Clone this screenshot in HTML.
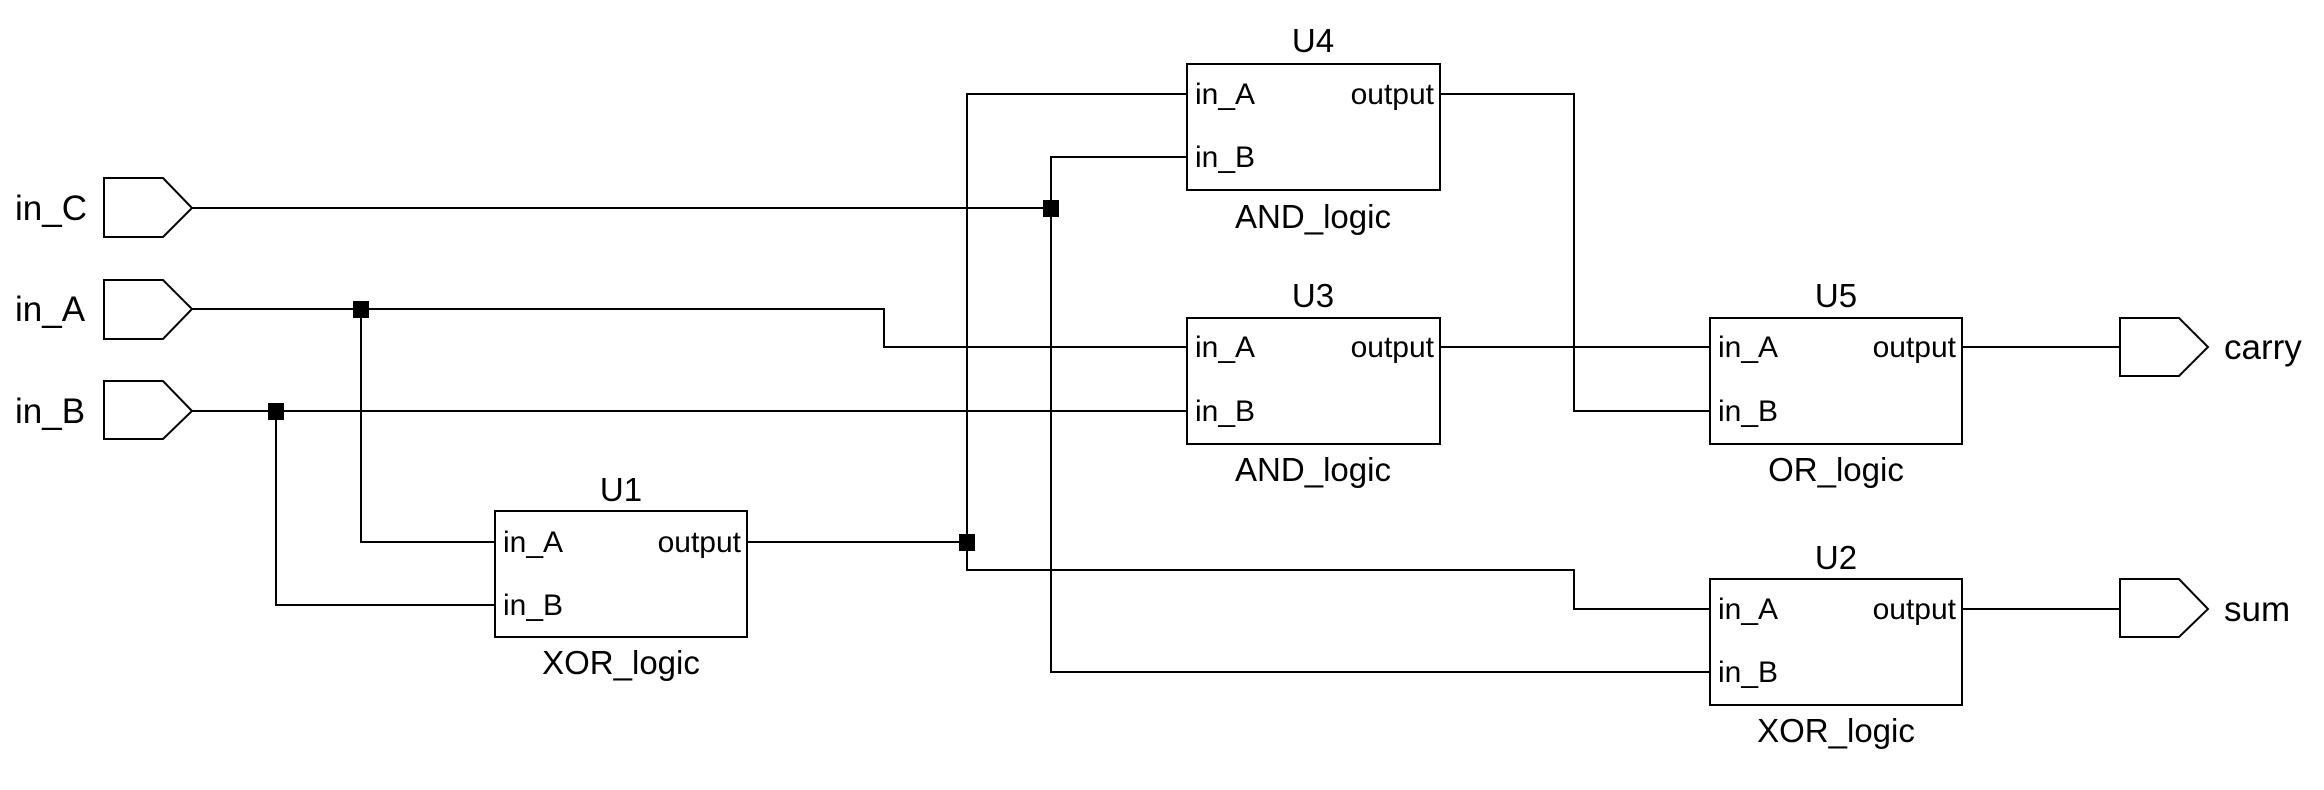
<!DOCTYPE html>
<html><head><meta charset="utf-8"><style>html,body{margin:0;padding:0;background:#fff}svg{display:block}</style></head>
<body>
<svg width="2324" height="790" viewBox="0 0 2324 790" xmlns="http://www.w3.org/2000/svg" font-family="Liberation Sans, Arial, sans-serif">
<g fill="none" stroke="#000" stroke-width="2">
<polygon points="104,178 163,178 192,208 163,237 104,237"/>
<polygon points="104,280 163,280 192,309 163,339 104,339"/>
<polygon points="104,381 163,381 192,411 163,439 104,439"/>
<polygon points="2120,318 2179,318 2208,347 2179,376 2120,376"/>
<polygon points="2120,579 2179,579 2208,609 2179,637 2120,637"/>
<rect x="495" y="511" width="252" height="126"/>
<rect x="1187" y="64" width="253" height="126"/>
<rect x="1187" y="318" width="253" height="126"/>
<rect x="1710" y="318" width="252" height="126"/>
<rect x="1710" y="579" width="252" height="126"/>
<polyline points="192,208 1051,208"/>
<polyline points="192,309 884,309 884,347 1187,347"/>
<polyline points="192,411 1187,411"/>
<polyline points="361,309 361,542 495,542"/>
<polyline points="276,411 276,605 495,605"/>
<polyline points="747,542 967,542"/>
<polyline points="1187,94 967,94 967,570 1574,570 1574,609 1710,609"/>
<polyline points="1187,157 1051,157 1051,672 1710,672"/>
<polyline points="1440,94 1574,94 1574,411 1710,411"/>
<polyline points="1440,347 1710,347"/>
<polyline points="1962,347 2120,347"/>
<polyline points="1962,609 2120,609"/>
</g>
<g fill="#000">
<rect x="353" y="301" width="16" height="17"/>
<rect x="268" y="403" width="16" height="17"/>
<rect x="1043" y="200" width="16" height="17"/>
<rect x="959" y="534" width="16" height="17"/>
</g>
<g font-size="35" fill="#000">
<text x="15" y="220">in_C</text>
<text x="15" y="321">in_A</text>
<text x="15" y="423">in_B</text>
<text x="2224" y="359">carry</text>
<text x="2224" y="621">sum</text>
</g>
<g font-size="33" fill="#000" text-anchor="middle">
<text x="621" y="501">U1</text>
<text x="621" y="674">XOR_logic</text>
<text x="1313" y="52">U4</text>
<text x="1313" y="228">AND_logic</text>
<text x="1313" y="307">U3</text>
<text x="1313" y="481">AND_logic</text>
<text x="1836" y="307">U5</text>
<text x="1836" y="481">OR_logic</text>
<text x="1836" y="569">U2</text>
<text x="1836" y="742">XOR_logic</text>
</g>
<g font-size="30" fill="#000">
<text x="503" y="552">in_A</text><text x="503" y="615">in_B</text>
<text x="1195" y="104">in_A</text><text x="1195" y="167">in_B</text>
<text x="1195" y="357">in_A</text><text x="1195" y="421">in_B</text>
<text x="1718" y="357">in_A</text><text x="1718" y="421">in_B</text>
<text x="1718" y="619">in_A</text><text x="1718" y="682">in_B</text>
</g>
<g font-size="30" fill="#000" text-anchor="end">
<text x="741" y="552">output</text>
<text x="1434" y="104">output</text>
<text x="1434" y="357">output</text>
<text x="1956" y="357">output</text>
<text x="1956" y="619">output</text>
</g>
</svg>
</body></html>
